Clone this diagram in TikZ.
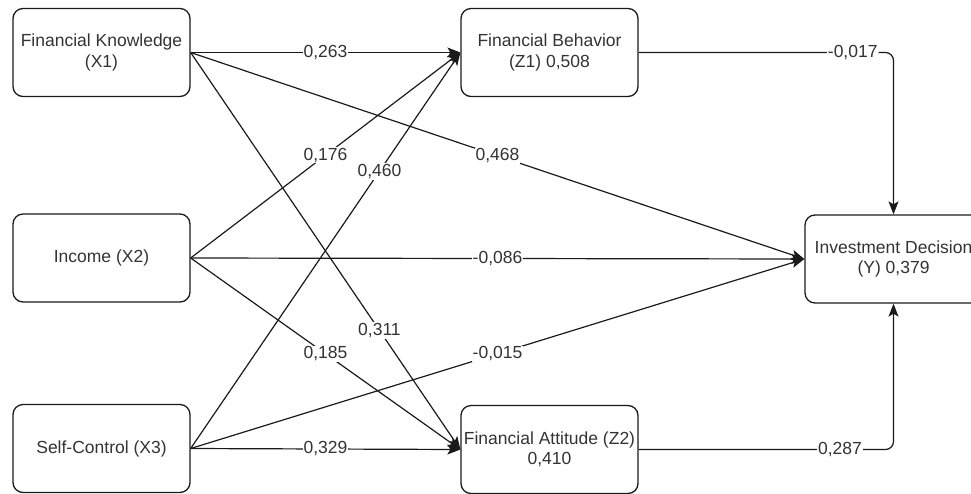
\documentclass[tikz,border=0pt]{standalone}
\usepackage{fontspec}
\setmainfont{Liberation Sans}
\usetikzlibrary{arrows.meta}
\definecolor{txt}{HTML}{333333}
\definecolor{ln}{HTML}{1A1A1A}
\begin{document}
\begin{tikzpicture}[x=1pt,y=-1pt,
  box/.style={draw=ln,line width=1.3pt,rounded corners=10pt,minimum width=177pt,minimum height=88pt,align=center,text=txt,font=\fontsize{17.5}{20.5}\selectfont,inner sep=0pt},
  conn/.style={draw=ln,line width=1.2pt,-{Stealth[length=13pt,width=10pt,inset=3pt]}},
  lbl/.style={fill=white,text=txt,font=\fontsize{17.5}{20.5}\selectfont,inner sep=1pt}]
\useasboundingbox (0,0) rectangle (971,493);
\clip (0,0) rectangle (971,494);
\node[box] (X1) at (101.5,52.5) {Financial Knowledge\\(X1)};
\node[box] (X2) at (101.5,258) {Income (X2)};
\node[box] (X3) at (101.5,448.5) {Self-Control (X3)};
\node[box] (Z1) at (549.5,52.5) {Financial Behavior\\(Z1) 0,508};
\node[box] (Z2) at (549.5,449.5) {Financial Attitude (Z2)\\0,410};
\node[box] (Y) at (893.5,259) {Investment Decision\\(Y) 0,379};
% from X1
\draw[conn] (X1.east) -- node[lbl] {0,263} (Z1.west);
\draw[conn] (X1.east) -- node[lbl] {0,468} (Y.west);
\draw[conn] (X1.east) -- node[lbl,pos=0.7] {0,311} (Z2.west);
% from X2
\draw[conn] (X2.east) -- node[lbl] {0,176} (Z1.west);
\draw[conn] (X2.east) -- node[lbl] {-0,086} (Y.west);
\draw[conn] (X2.east) -- node[lbl] {0,185} (Z2.west);
% from X3
\draw[conn] (X3.east) -- node[lbl,pos=0.7] {0,460} (Z1.west);
\draw[conn] (X3.east) -- node[lbl] {-0,015} (Y.west);
\draw[conn] (X3.east) -- node[lbl] {0,329} (Z2.west);
% mediators to Y
\draw[conn,rounded corners=8pt] (Z1.east) -- node[lbl,pos=0.84] {-0,017} (Z1.east -| Y.north) -- (Y.north);
\draw[conn,rounded corners=8pt] (Z2.east) -- node[lbl,pos=0.79] {0,287} (Z2.east -| Y.south) -- (Y.south);
\end{tikzpicture}
\end{document}
